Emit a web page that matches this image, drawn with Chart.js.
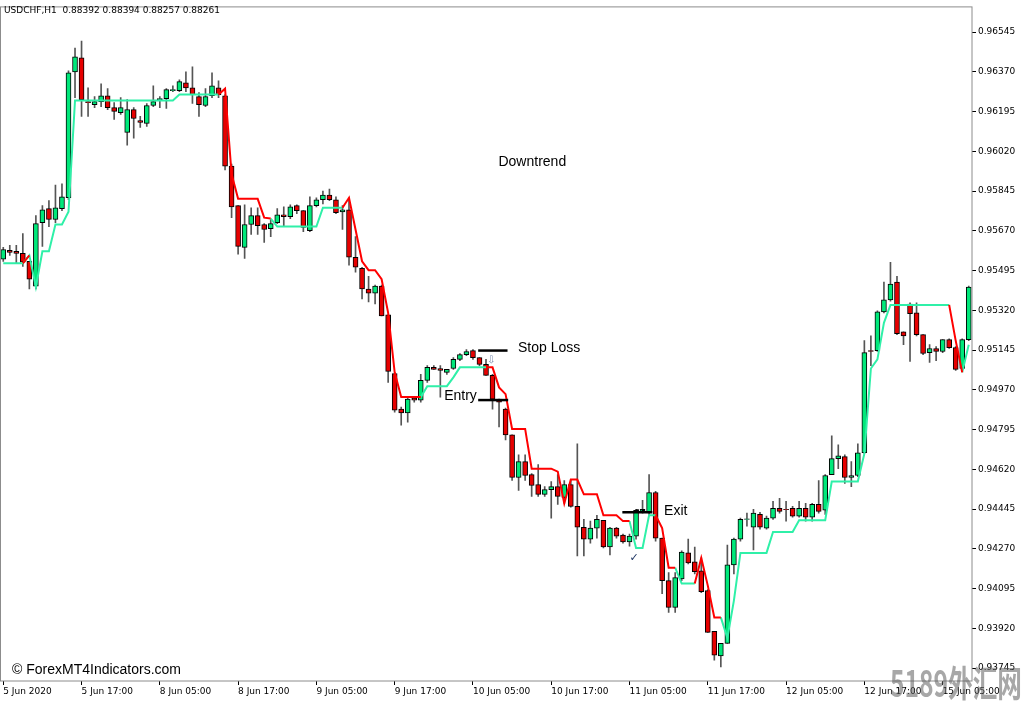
<!DOCTYPE html>
<html>
<head>
  <meta charset="UTF-8">
  <title>USDCHF H1</title>
  <script src="https://cdn.jsdelivr.net/npm/chart.js"></script>
  <style>
    body { margin: 0; background: #fff; }
    #wrap { width: 1024px; height: 704px; }
  </style>
</head>
<body>
  <div id="wrap"><canvas id="chart"></canvas></div>
  <script>
    // hourly candles
    const opens = [0.95545,0.95584,0.95580,0.95571,0.95536,0.95427,0.95706,0.95768,0.95720,0.95768,
      0.95816,0.96370,0.96432,0.96239,0.96226,0.96239,0.96265,0.96213,0.96191,0.96104,
      0.96204,0.96156,0.96143,0.96222,0.96248,0.96252,0.96287,0.96287,0.96322,0.96300,
      0.96261,0.96222,0.96265,0.96300,0.96265,0.95955,0.95781,0.95597,0.95698,0.95737,
      0.95698,0.95680,0.95706,0.95741,0.95733,0.95781,0.95759,0.95671,0.95781,0.95807,
      0.95828,0.95807,0.95754,0.95763,0.95554,0.95505,0.95414,0.95396,0.95427,0.95300,
      0.95042,0.94885,0.94868,0.94933,0.94925,0.95012,0.95069,0.95064,0.95047,0.95064,
      0.95104,0.95125,0.95143,0.95112,0.95082,0.95034,0.94929,0.94885,0.94772,0.94584,
      0.94654,0.94597,0.94553,0.94510,0.94531,0.94544,0.94496,0.94553,0.94457,0.94365,
      0.94313,0.94361,0.94396,0.94278,0.94361,0.94330,0.94300,0.94326,0.94431,0.94431,
      0.94518,0.94317,0.94130,0.94012,0.94138,0.94252,0.94213,0.94173,0.94086,0.93907,
      0.93798,0.93854,0.94199,0.94313,0.94400,0.94365,0.94422,0.94361,0.94405,0.94448,
      0.94444,0.94448,0.94414,0.94448,0.94409,0.94466,0.94440,0.94597,0.94667,0.94676,
      0.94584,0.94593,0.94693,0.95143,0.95143,0.95313,0.95366,0.95444,0.95226,0.95348,
      0.95309,0.95213,0.95134,0.95152,0.95139,0.95191,0.95156,0.95064,0.95191];
    const highs = [0.95597,0.95606,0.95606,0.95658,0.95536,0.95737,0.95781,0.95803,0.95872,0.95877,
      0.96375,0.96475,0.96506,0.96300,0.96261,0.96318,0.96296,0.96235,0.96257,0.96248,
      0.96213,0.96174,0.96231,0.96309,0.96261,0.96296,0.96309,0.96335,0.96370,0.96392,
      0.96279,0.96296,0.96366,0.96331,0.96270,0.95964,0.95781,0.95785,0.95772,0.95772,
      0.95702,0.95720,0.95768,0.95776,0.95785,0.95785,0.95759,0.95820,0.95816,0.95845,
      0.95854,0.95820,0.95781,0.95811,0.95645,0.95510,0.95470,0.95431,0.95431,0.95300,
      0.95042,0.94894,0.94938,0.94938,0.95038,0.95077,0.95077,0.95077,0.95060,0.95112,
      0.95130,0.95147,0.95147,0.95112,0.95104,0.95038,0.94929,0.94890,0.94772,0.94684,
      0.94684,0.94601,0.94641,0.94544,0.94566,0.94597,0.94571,0.94575,0.94732,0.94400,
      0.94392,0.94418,0.94396,0.94365,0.94365,0.94335,0.94335,0.94444,0.94483,0.94597,
      0.94523,0.94317,0.94165,0.94165,0.94261,0.94313,0.94278,0.94230,0.94090,0.93907,
      0.93854,0.94287,0.94317,0.94405,0.94427,0.94444,0.94431,0.94414,0.94479,0.94492,
      0.94479,0.94457,0.94479,0.94470,0.94470,0.94571,0.94597,0.94767,0.94728,0.94684,
      0.94654,0.94732,0.95187,0.95208,0.95318,0.95444,0.95532,0.95470,0.95226,0.95353,
      0.95353,0.95213,0.95169,0.95160,0.95191,0.95195,0.95160,0.95195,0.95427];
    const lows = [0.95536,0.95562,0.95527,0.95514,0.95414,0.95414,0.95602,0.95689,0.95706,0.95759,
      0.95807,0.96257,0.96174,0.96174,0.96213,0.96217,0.96204,0.96161,0.96183,0.96047,
      0.96078,0.96126,0.96130,0.96217,0.96213,0.96209,0.96283,0.96283,0.96283,0.96231,
      0.96174,0.96217,0.96257,0.96257,0.95938,0.95728,0.95567,0.95549,0.95654,0.95654,
      0.95619,0.95645,0.95702,0.95693,0.95724,0.95746,0.95667,0.95667,0.95776,0.95789,
      0.95803,0.95746,0.95676,0.95519,0.95488,0.95370,0.95357,0.95348,0.95296,0.95003,
      0.94872,0.94815,0.94828,0.94916,0.94916,0.95003,0.95060,0.94938,0.95038,0.95060,
      0.95099,0.95121,0.95104,0.95077,0.95034,0.94885,0.94807,0.94750,0.94571,0.94527,
      0.94571,0.94501,0.94501,0.94501,0.94405,0.94466,0.94470,0.94453,0.94239,0.94239,
      0.94295,0.94317,0.94274,0.94243,0.94317,0.94295,0.94282,0.94313,0.94427,0.94422,
      0.94304,0.94073,0.93990,0.93990,0.94130,0.94204,0.94160,0.94077,0.93902,0.93780,
      0.93750,0.93854,0.94160,0.94304,0.94370,0.94265,0.94357,0.94357,0.94400,0.94427,
      0.94392,0.94409,0.94409,0.94392,0.94392,0.94427,0.94422,0.94597,0.94623,0.94558,
      0.94544,0.94588,0.94689,0.95077,0.95139,0.95309,0.95361,0.95213,0.95169,0.95095,
      0.95208,0.95125,0.95091,0.95099,0.95134,0.95152,0.95056,0.95060,0.95187];
    const closes = [0.95588,0.95575,0.95571,0.95532,0.95457,0.95702,0.95763,0.95720,0.95772,0.95820,
      0.96366,0.96436,0.96248,0.96235,0.96239,0.96265,0.96213,0.96196,0.96213,0.96204,
      0.96165,0.96148,0.96222,0.96239,0.96252,0.96292,0.96292,0.96327,0.96300,0.96270,
      0.96226,0.96261,0.96309,0.96270,0.95955,0.95776,0.95602,0.95698,0.95737,0.95693,
      0.95676,0.95702,0.95741,0.95733,0.95776,0.95759,0.95685,0.95781,0.95807,0.95828,
      0.95807,0.95750,0.95763,0.95554,0.95510,0.95414,0.95396,0.95427,0.95296,0.95051,
      0.94881,0.94868,0.94929,0.94925,0.95012,0.95069,0.95060,0.95056,0.95060,0.95104,
      0.95125,0.95139,0.95112,0.95082,0.95034,0.94929,0.94916,0.94772,0.94584,0.94654,
      0.94593,0.94549,0.94510,0.94531,0.94544,0.94501,0.94553,0.94457,0.94365,0.94313,
      0.94361,0.94400,0.94278,0.94361,0.94326,0.94300,0.94326,0.94440,0.94444,0.94518,
      0.94317,0.94130,0.94012,0.94143,0.94256,0.94208,0.94169,0.94081,0.93902,0.93802,
      0.93854,0.94199,0.94313,0.94400,0.94402,0.94427,0.94365,0.94405,0.94448,0.94435,
      0.94442,0.94414,0.94448,0.94409,0.94466,0.94435,0.94593,0.94667,0.94680,0.94584,
      0.94593,0.94693,0.95134,0.95139,0.95313,0.95366,0.95436,0.95217,0.95208,0.95305,
      0.95213,0.95130,0.95152,0.95139,0.95191,0.95156,0.95060,0.95191,0.95423];

    // trailing stop indicator: green below price in uptrend, red above in downtrend
    const upLine = [0.95527,0.95527,0.95527,0.95527,0.95562,0.95423,0.95580,0.95580,0.95698,0.95698,
      0.95754,0.96244,0.96244,0.96244,0.96244,0.96244,0.96244,0.96244,0.96244,0.96244,
      0.96244,0.96244,0.96244,0.96244,0.96244,0.96244,0.96244,0.96270,0.96270,0.96270,
      0.96270,0.96270,0.96270,0.96270,null,null,null,null,null,null,
      null,0.95724,0.95689,0.95689,0.95689,0.95689,0.95689,0.95689,0.95689,0.95772,
      0.95772,0.95772,0.95772,null,null,null,null,null,null,null,
      null,null,null,null,0.94938,0.94986,0.94986,0.94986,0.94986,0.95025,
      0.95069,0.95069,0.95069,0.95069,0.95069,null,null,null,null,null,
      null,null,null,null,null,null,null,null,null,null,
      null,null,null,null,null,null,0.94392,0.94274,0.94274,0.94418,
      0.94418,null,null,0.94187,0.94117,0.94117,0.94117,null,null,null,
      0.93968,0.93877,0.94042,0.94252,0.94252,0.94252,0.94252,0.94252,0.94344,0.94344,
      0.94344,0.94344,0.94396,0.94396,0.94396,0.94396,0.94396,0.94566,0.94566,0.94566,
      0.94566,0.94566,0.94689,0.95064,0.95104,0.95265,0.95344,0.95344,0.95344,0.95344,
      0.95344,0.95344,0.95344,0.95344,0.95344,0.95344,null,0.95047,0.95169];
    const dnLine = [null,null,null,0.95527,0.95562,null,null,null,null,null,
      null,null,null,null,null,null,null,null,null,null,
      null,null,null,null,null,null,null,null,null,null,
      null,null,null,0.96270,0.96296,0.95920,0.95811,0.95811,0.95811,0.95811,
      0.95728,0.95724,null,null,null,null,null,null,null,null,
      null,null,0.95772,0.95816,0.95676,0.95536,0.95497,0.95497,0.95457,0.95309,
      0.95047,0.94938,0.94938,0.94938,0.94938,null,null,null,null,null,
      null,null,null,null,0.95069,0.95069,0.94981,0.94951,0.94798,0.94798,
      0.94798,0.94623,0.94623,0.94623,0.94623,0.94610,0.94470,0.94575,0.94575,0.94510,
      0.94510,0.94510,0.94418,0.94418,0.94418,0.94392,0.94392,null,null,null,
      0.94418,0.94361,0.94187,0.94187,null,null,0.94117,0.94230,0.94108,0.93968,
      0.93968,null,null,null,null,null,null,null,null,null,
      null,null,null,null,null,null,null,null,null,null,
      null,null,null,null,null,null,null,null,null,null,
      null,null,null,null,null,0.95344,0.95187,0.95047,null];

    const timeLabels = ['5 Jun 2020','5 Jun 17:00','8 Jun 05:00','8 Jun 17:00','9 Jun 05:00',
      '9 Jun 17:00','10 Jun 05:00','10 Jun 17:00','11 Jun 05:00','11 Jun 17:00',
      '12 Jun 05:00','12 Jun 17:00','15 Jun 05:00'];
    const priceTicks = [0.96545,0.96370,0.96195,0.96020,0.95845,0.95670,0.95495,0.95320,0.95145,
      0.94970,0.94795,0.94620,0.94445,0.94270,0.94095,0.93920,0.93745];

    // chart objects drawn on top: text notes and short level lines (bar index, price)
    const notes = [
      { text: 'Downtrend', bar: 81.1, price: 0.95973, align: 'center' },
      { text: 'Stop Loss', bar: 78.9, price: 0.95152, align: 'left' },
      { text: 'Entry', bar: 72.6, price: 0.94942, align: 'right' },
      { text: 'Exit', bar: 101.3, price: 0.94435, align: 'left' }
    ];
    const levels = [
      { from: 72.8, to: 77.3, price: 0.95143 },
      { from: 72.8, to: 77.4, price: 0.94925 },
      { from: 94.9, to: 99.5, price: 0.94431 }
    ];

    const bullColor = '#00e87a', bearColor = '#e60000';
    const bodyColors = opens.map((o, i) => closes[i] >= o ? bullColor : bearColor);

    const chartMarks = {
      id: 'chartMarks',
      afterDatasetsDraw(chart) {
        const { ctx, scales: { x, y } } = chart;
        ctx.save();
        ctx.strokeStyle = '#000';
        ctx.lineWidth = 2.5;
        levels.forEach(l => {
          const py = y.getPixelForValue(l.price);
          ctx.beginPath();
          ctx.moveTo(x.getPixelForValue(l.from), py);
          ctx.lineTo(x.getPixelForValue(l.to), py);
          ctx.stroke();
        });
        // little bumps on the exit line
        ctx.fillStyle = '#000';
        [97.2, 98.1].forEach(b => {
          ctx.fillRect(x.getPixelForValue(b) - 1.5, y.getPixelForValue(0.94431) - 3, 3, 3);
        });
        ctx.font = '14px "Liberation Sans", Arial, sans-serif';
        ctx.textBaseline = 'middle';
        notes.forEach(n => {
          ctx.textAlign = n.align;
          ctx.fillText(n.text, x.getPixelForValue(n.bar), y.getPixelForValue(n.price));
        });
        // sell arrow and check mark
        ctx.textAlign = 'center';
        ctx.font = '10px "DejaVu Sans"';
        ctx.fillStyle = '#7a8cae';
        ctx.fillText('⇩', x.getPixelForValue(74.8), y.getPixelForValue(0.95099));
        ctx.fillStyle = '#1c3462';
        ctx.font = '11px "DejaVu Sans"';
        ctx.fillText('✓', x.getPixelForValue(96.7), y.getPixelForValue(0.94230));
        ctx.restore();
      },
      afterDraw(chart) {
        const { ctx, chartArea: a } = chart;
        ctx.save();
        ctx.strokeStyle = '#8c8c8c';
        ctx.lineWidth = 1;
        ctx.strokeRect(0.5, a.top - 0.5, a.right - 0.5, a.bottom - a.top + 0.5);
        ctx.fillStyle = '#000';
        ctx.textBaseline = 'middle';
        ctx.textAlign = 'left';
        ctx.font = '9px "DejaVu Sans"';
        ctx.fillText('USDCHF,H1  0.88392 0.88394 0.88257 0.88261', 4, 11);
        ctx.font = '14px "Liberation Sans", Arial, sans-serif';
        ctx.fillText('© ForexMT4Indicators.com', 12, 670);
        // site watermark, squeezed into the bottom right corner
        const mark = '5189外汇网';
        ctx.fillStyle = 'rgba(95,95,95,0.55)';
        ctx.font = 'bold 28px "Noto Sans CJK SC"';
        ctx.textBaseline = 'alphabetic';
        const sx = 132 / ctx.measureText(mark).width;
        ctx.translate(890, 697);
        ctx.scale(sx, 1.3);
        ctx.fillText(mark, 0, 0);
        ctx.restore();
      }
    };

    new Chart(document.getElementById('chart'), {
      type: 'bar',
      data: {
        labels: opens.map((_, i) => i),
        datasets: [
          {
            type: 'line', label: 'down', data: dnLine, order: 1,
            borderColor: '#ff0000', borderWidth: 2, pointRadius: 0, tension: 0, spanGaps: false
          },
          {
            type: 'line', label: 'up', data: upLine, order: 2,
            borderColor: '#2ff0a8', borderWidth: 2, pointRadius: 0, tension: 0, spanGaps: false
          },
          {
            label: 'body', order: 3, grouped: false,
            data: opens.map((o, i) => [o, closes[i]]),
            backgroundColor: bodyColors, borderColor: '#000', borderWidth: 1,
            borderSkipped: false, barThickness: 5
          },
          {
            label: 'wick', order: 4, grouped: false,
            data: lows.map((l, i) => [l, highs[i]]),
            backgroundColor: '#555', borderWidth: 0, barThickness: 1
          }
        ]
      },
      options: {
        responsive: true,
        maintainAspectRatio: false,
        animation: false,
        layout: { padding: { top: 2, left: 0, right: 0, bottom: 0 } },
        plugins: { legend: { display: false }, tooltip: { enabled: false } },
        scales: {
          x: {
            offset: true,
            afterFit: s => { s.height = 23; },
            afterBuildTicks: s => { s.ticks = s.ticks.filter(t => t.value % 12 === 0); },
            grid: { offset: false, drawOnChartArea: false, drawTicks: true, tickLength: 4, color: '#000' },
            border: { display: false },
            ticks: {
              autoSkip: false, maxRotation: 0, align: 'start', padding: 1, color: '#000',
              font: { family: 'DejaVu Sans', size: 9 },
              callback: v => timeLabels[v / 12]
            }
          },
          y: {
            position: 'right',
            min: 0.93688,
            max: 0.96654,
            afterFit: s => { s.width = 52; },
            afterBuildTicks: s => { s.ticks = priceTicks.map(v => ({ value: v })); },
            grid: { drawOnChartArea: false, drawTicks: true, tickLength: 4, color: '#000' },
            border: { display: false },
            ticks: {
              padding: 2, color: '#000',
              font: { family: 'DejaVu Sans', size: 9 },
              callback: v => v.toFixed(5)
            }
          }
        }
      },
      plugins: [chartMarks]
    });
  </script>
</body>
</html>
